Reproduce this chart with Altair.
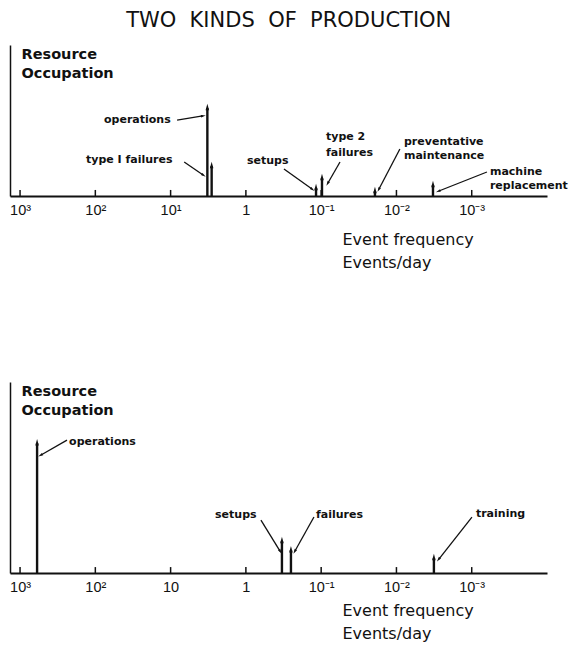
import math
import altair as alt
import pandas as pd

FONT = "DejaVu Sans"
INK = "#111111"

# ---- axis ticks ----
tick_values = [1e3, 1e2, 1e1, 1.0, 1e-1, 1e-2, 1e-3]
top_tick_labels = ["10³", "10²", "10¹", "1", "10⁻¹", "10⁻²", "10⁻³"]
bottom_tick_labels = ["10³", "10²", "10", "1", "10⁻¹", "10⁻²", "10⁻³"]
x_domain = [1e-4, 1360]

# ---- top panel: events (frequency in events/day, resource occupation in arbitrary units 0-100) ----
top_events = ["operations", "type I failures", "setups", "type 2 failures",
              "preventative maintenance", "machine replacement"]
top_freq = [3.25, 2.85, 0.117, 0.0975, 0.0193, 0.00327]
top_occ = [58.3, 19.9, 5.3, 11.9, 3.3, 7.3]

top_label_text = ["operations", "type I failures", "setups", "type 2", "failures",
                  "preventative", "maintenance", "machine", "replacement"]
top_label_freq = [76.6, 133.0, 0.966, 0.0863, 0.0863, 0.00794, 0.00794, 0.000573, 0.000573]
top_label_occ = [50.3, 23.8, 23.2, 39.1, 28.2, 35.8, 26.5, 16.2, 6.8]

top_lead_f1 = [8.2, 6.6, 0.312, 0.0562, 0.009, 0.000628]
top_lead_o1 = [50.3, 22.5, 17.9, 22.5, 31.1, 15.9]
top_lead_f2 = [3.75, 3.7, 0.1324, 0.0813, 0.01706, 0.00273]
top_lead_o2 = [53.0, 13.9, 4.6, 8.6, 4.6, 3.3]

# ---- bottom panel ----
bottom_events = ["operations", "setups", "failures", "training"]
bottom_freq = [594.0, 0.332, 0.252, 0.00318]
bottom_occ = [68.0, 16.8, 12.0, 7.9]

bottom_label_text = ["operations", "setups", "failures", "training"]
bottom_label_freq = [223.0, 2.57, 0.117, 0.000879]
bottom_label_occ = [68.6, 30.4, 30.4, 30.9]

bottom_lead_f1 = [238.0, 0.631, 0.1247, 0.000993]
bottom_lead_o1 = [69.6, 27.7, 29.3, 29.3]
bottom_lead_f2 = [526.0, 0.352, 0.2228, 0.00273]
bottom_lead_o2 = [61.8, 11.5, 11.5, 7.3]

ARROW = "M0,-1L0.42,0.55L-0.42,0.55Z"
PX_PER_DECADE = 537 / (math.log10(x_domain[1]) - math.log10(x_domain[0]))


def label_expr(labels):
    bounds = [500, 50, 5, 0.5, 0.05, 0.005]
    expr = "'" + labels[-1] + "'"
    for b, lab in reversed(list(zip(bounds, labels[:-1]))):
        expr = f"datum.value >= {b} ? '{lab}' : ({expr})"
    return expr


def head_angles(f1, o1, f2, o2, height):
    out = []
    for a, b, c, d in zip(f1, o1, f2, o2):
        dx = -(math.log10(c) - math.log10(a)) * PX_PER_DECADE
        dy = -(d - b) * height / 100.0
        out.append(math.degrees(math.atan2(dx, -dy)) % 360)
    return out


def panel(events, freq, occ, lt, lf, lo, f1, o1, f2, o2, tick_labels, height, tick_h, title_y):
    spikes = pd.DataFrame({"event": events, "freq": freq, "occ": occ, "zero": [0] * len(freq)})
    ticks = pd.DataFrame({"freq": tick_values, "occ": [0] * len(tick_values),
                          "occ2": [tick_h] * len(tick_values)})
    labels = pd.DataFrame({"label": lt, "freq": lf, "occ": lo})
    leads = pd.DataFrame({"freq": f1, "occ": o1, "freq2": f2, "occ2": o2})
    heads = pd.DataFrame({"freq": f2, "occ": o2, "ang": head_angles(f1, o1, f2, o2, height)})

    X = alt.X("freq:Q",
              scale=alt.Scale(type="log", domain=x_domain, reverse=True, nice=False),
              axis=alt.Axis(values=tick_values, labelExpr=label_expr(tick_labels),
                            ticks=False, tickSize=0, grid=False, domainWidth=2, domainColor=INK,
                            labelFontSize=14.5, labelPadding=7, labelFont="Liberation Sans",
                            labelColor=INK, labelFlush=False, labelOverlap=False,
                            title=["Event frequency", "Events/day"], titleAlign="left",
                            titleAnchor="start", titleX=332, titleY=title_y,
                            titleBaseline="alphabetic", titleFontSize=16,
                            titleFontWeight="normal", titleLineHeight=23, titleFont=FONT,
                            titleColor=INK))
    Y = alt.Y("occ:Q",
              scale=alt.Scale(domain=[0, 100], nice=False),
              axis=alt.Axis(title=["Resource", "Occupation"], titleAngle=0, titleAlign="left",
                            titleBaseline="top", titleX=11, titleY=2, labels=False,
                            ticks=False, grid=False, domainWidth=1.5, domainColor=INK,
                            titleFontSize=14.5, titleFontWeight="bold", titleLineHeight=19,
                            titleFont=FONT, titleColor=INK))

    tick_layer = alt.Chart(ticks).mark_rule(color=INK, strokeWidth=1.5).encode(
        x=X, y=Y, y2=alt.Y2("occ2:Q"))
    spike_layer = alt.Chart(spikes).mark_rule(color=INK, strokeWidth=2.4).encode(
        x=X, y=Y, y2=alt.Y2("zero:Q"))
    head_layer = alt.Chart(spikes).mark_point(shape=ARROW, filled=True, size=70,
                                              color=INK, opacity=1).encode(x=X, y=Y)
    lead_layer = alt.Chart(leads).mark_rule(color=INK, strokeWidth=1.3).encode(
        x=X, x2=alt.X2("freq2:Q"), y=Y, y2=alt.Y2("occ2:Q"))
    lead_head_layer = alt.Chart(heads).mark_point(shape=ARROW, filled=True, size=40,
                                                  color=INK, opacity=1).encode(
        x=X, y=Y, angle=alt.Angle("ang:Q", scale=None))
    text_layer = alt.Chart(labels).mark_text(align="left", baseline="middle", font=FONT,
                                             fontSize=11, fontWeight="bold",
                                             color=INK).encode(x=X, y=Y, text="label:N")
    return alt.layer(tick_layer, spike_layer, head_layer, lead_layer, lead_head_layer,
                     text_layer).properties(width=537, height=height)


top = panel(top_events, top_freq, top_occ, top_label_text, top_label_freq, top_label_occ,
            top_lead_f1, top_lead_o1, top_lead_f2, top_lead_o2, top_tick_labels,
            151, 4.0, 48)
bottom = panel(bottom_events, bottom_freq, bottom_occ, bottom_label_text, bottom_label_freq,
               bottom_label_occ, bottom_lead_f1, bottom_lead_o1, bottom_lead_f2, bottom_lead_o2,
               bottom_tick_labels, 191, 3.1, 42)

chart = alt.vconcat(top, bottom, spacing=112).properties(
    title=alt.TitleParams("TWO\u00a0 KINDS\u00a0 OF\u00a0 PRODUCTION", fontSize=21, font=FONT,
                          fontWeight="normal", anchor="middle", offset=14, color=INK),
    padding={"left": 1, "top": 2, "right": 2, "bottom": 2},
    background="white",
).configure_view(stroke=None, strokeWidth=0)

chart.save("out.html", embed_options={"renderer": "svg", "actions": False})
